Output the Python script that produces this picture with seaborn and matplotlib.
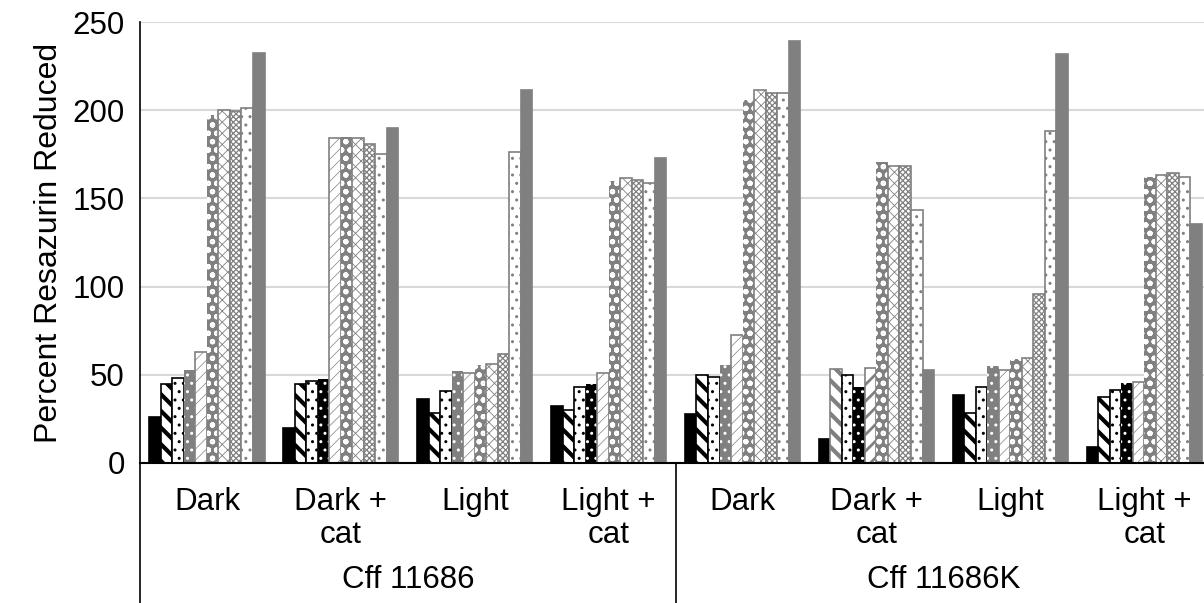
import matplotlib
matplotlib.use("Agg")
import matplotlib.pyplot as plt
import matplotlib.transforms as mtransforms
import numpy as np
import pandas as pd
import seaborn as sns

# ---------------- data ----------------
conditions = ["Dark", "Dark +\ncat", "Light", "Light +\ncat",
              "Dark", "Dark +\ncat", "Light", "Light +\ncat"]
strains = ["Cff 11686", "Cff 11686K"]

dark_11686 = [26, 45, 48, 53, 63, 197.5, 200, 199.5, 201.5, 232.5]
darkcat_11686 = [20, 45, 46.5, 47.5, 184, 185, 184, 181, 175, 190]
light_11686 = [36.5, 28.5, 41, 52, 51, 55.5, 56, 62, 176.5, 211.5]
lightcat_11686 = [32.5, 30, 43, 45, 51, 160, 161.5, 160.5, 159, 173]
dark_11686K = [28, 50, 49, 55.5, 72.5, 206, 211.5, 209.5, 209.5, 239]
darkcat_11686K = [13.5, 53.5, 50, 43, 54, 170.5, 168.5, 168.5, 143.5, 53]
light_11686K = [38.5, 28.5, 43, 55, 52.5, 59, 59.5, 96, 188, 232]
lightcat_11686K = [9, 37.5, 41.5, 45.5, 46, 162, 163, 164.5, 162, 135.5]

group_values = [dark_11686, darkcat_11686, light_11686, lightcat_11686,
                dark_11686K, darkcat_11686K, light_11686K, lightcat_11686K]

# pattern code of each bar within each group
group_patterns = [
    list("ABCDEFGHIJ"),
    list("ABCKEFGHIJ"),
    list("ABCDEFGHIJ"),
    list("ABCKEFGHIJ"),
    list("ABCDEFGHIJ"),
    list("ALCKMFGHIJ"),
    list("ABCDEFGHIJ"),
    list("ABCKEFGHIJ"),
]

# ---------------- styles ----------------
GREY = "#808080"
# code: (face, edge/hatch colour, hatch, edge linewidth, hatch linewidth)
styles = {
    "A": ("black", "black", None, 1.2, 1.0),
    "B": ("white", "black", "\\\\", 1.2, 3.0),
    "C": ("white", "black", "..", 1.2, 1.0),
    "D": (GREY, "white", "..", 0.0, 1.0),
    "E": ("white", GREY, "///", 1.2, 0.5),
    "F": (GREY, "white", "oo", 0.0, 1.5),
    "G": ("white", GREY, "xxx", 1.2, 0.6),
    "H": ("white", GREY, "xxxxxx", 1.2, 0.9),
    "I": ("white", GREY, "..", 1.2, 1.0),
    "J": (GREY, GREY, None, 1.2, 1.0),
    "K": ("black", "white", "..", 0.0, 1.0),
    "L": ("white", GREY, "\\\\", 1.2, 3.0),
    "M": ("white", GREY, "//", 1.2, 2.0),
}

rows = []
for gi, vals in enumerate(group_values):
    for si, v in enumerate(vals):
        rows.append({"group": f"g{gi}", "slot": si, "value": v})
df = pd.DataFrame(rows)

sns.set_theme(style="white")
plt.rcParams["font.family"] = ["Liberation Sans", "DejaVu Sans"]
plt.rcParams["hatch.linewidth"] = 1.0

FS = 22.5
fig = plt.figure(figsize=(12.04, 6.03), dpi=100)
W, H = 1204, 603
ax_left, ax_top, ax_bottom = 140, 22, 463
cat_w = 133.9
ax = fig.add_axes([ax_left / W, (H - ax_bottom) / H, 8 * cat_w / W, (ax_bottom - ax_top) / H])

sns.barplot(data=df, x="group", y="value", hue="slot", dodge=True, width=0.86,
            errorbar=None, legend=False, ax=ax, saturation=1,
            palette=["#808080"] * 10, order=[f"g{i}" for i in range(8)])

for si, cont in enumerate(ax.containers):
    for gi, bar in enumerate(cont.patches):
        code = group_patterns[gi][si]
        face, ec, hatch, lw, hlw = styles[code]
        bar.set_facecolor(face)
        bar.set_edgecolor(ec)
        bar.set_linewidth(lw)
        if hatch:
            bar.set_hatch(hatch)
            try:
                bar.set_hatch_linewidth(hlw)
            except Exception:
                pass

ax.set_xlim(-0.5, 7.5)
ax.set_ylim(0, 250)
ax.set_yticks(np.arange(0, 251, 50))
ax.grid(axis="y", color="#d9d9d9", linewidth=1.5)
ax.set_axisbelow(True)
ax.set_xticks(range(8))
ax.set_xticklabels(conditions, fontsize=FS, linespacing=1.15)
ax.tick_params(axis="x", length=0, pad=17, colors="black")
ax.tick_params(axis="y", length=0, pad=11, labelsize=FS, colors="black")
ax.set_xlabel("")
ax.set_ylabel("Percent Resazurin Reduced", fontsize=FS + 0.5, labelpad=6, color="black")

for s in ["top", "right"]:
    ax.spines[s].set_visible(False)
ax.spines["left"].set_color("black")
ax.spines["left"].set_linewidth(1.2)
ax.spines["bottom"].set_color("black")
ax.spines["bottom"].set_linewidth(1.5)

trans = mtransforms.blended_transform_factory(ax.transData, ax.transAxes)
below = -(H - ax_bottom) / (ax_bottom - ax_top)
for xs in (-0.5, 3.5):
    ax.plot([xs, xs], [0, below], transform=trans, clip_on=False, color="black", lw=1.2)

label_y = -(580 - ax_bottom) / (ax_bottom - ax_top)
for i, s in enumerate(strains):
    ax.text(1.5 + 4 * i, label_y, s, transform=trans, ha="center", va="center",
            fontsize=FS, color="black")

fig.savefig("out.png", dpi=100)
